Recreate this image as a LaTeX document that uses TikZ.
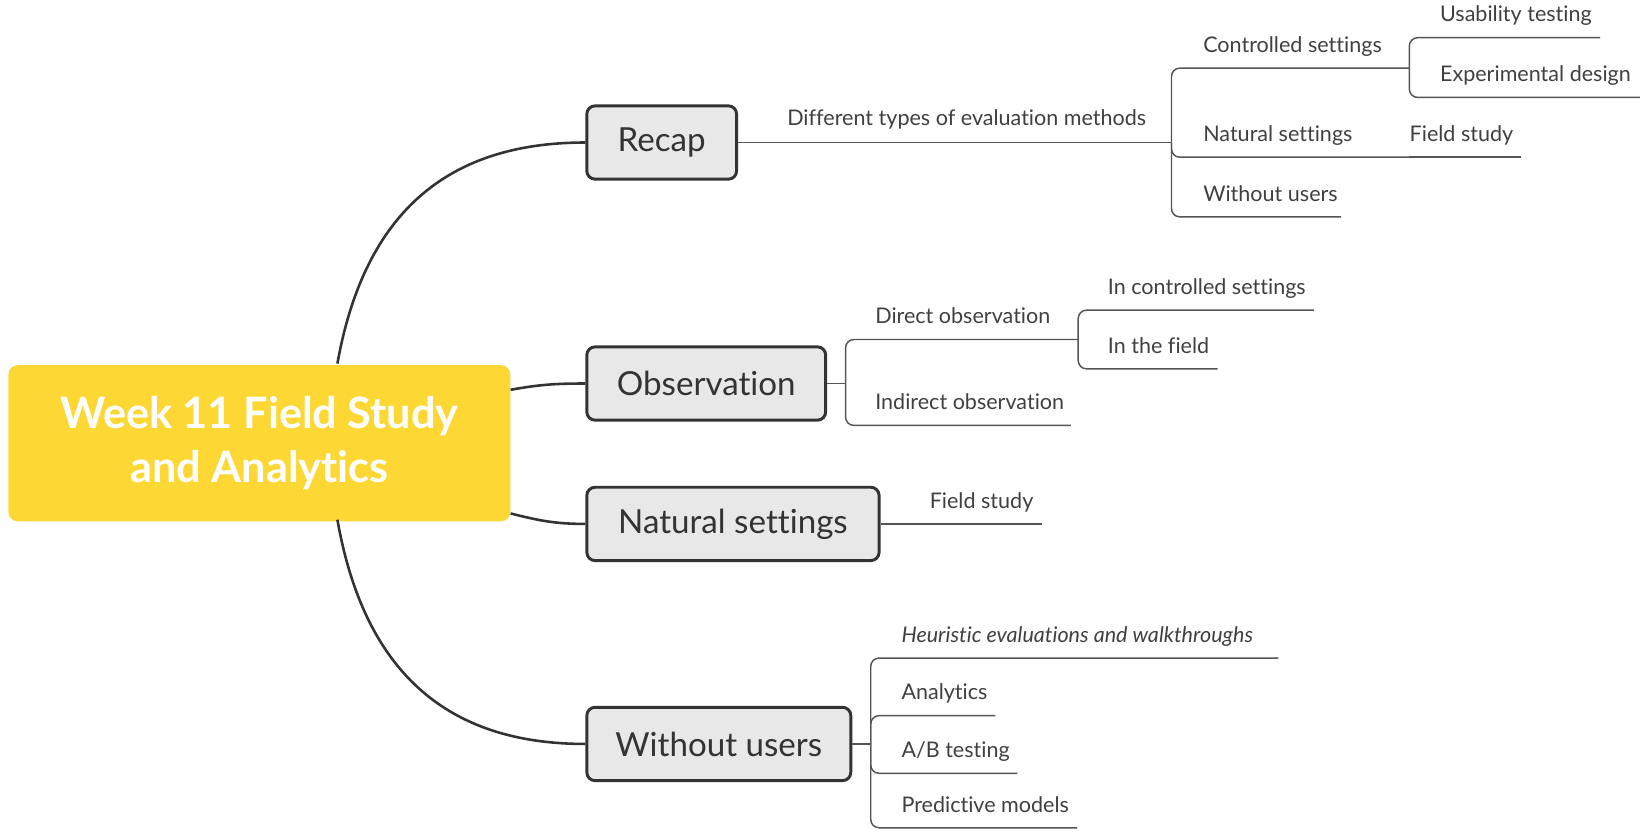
\documentclass[tikz,border=0pt]{standalone}
\usepackage{fontspec}
\setmainfont{Lato}[Ligatures=NoCommon]
\definecolor{yellowc}{HTML}{FDD835}
\definecolor{boxfill}{HTML}{E8E8E8}
\definecolor{boxborder}{HTML}{333333}
\definecolor{linedark}{HTML}{333333}
\definecolor{linegray}{HTML}{555555}
\definecolor{textdark}{HTML}{333333}
\definecolor{textgray}{HTML}{404040}
\tikzset{
  central/.style={fill=yellowc, rounded corners=5pt, minimum width=9.58cm, minimum height=2.98cm,
    text=white, font=\bfseries\fontsize{23.5}{29.5}\selectfont, align=center, inner sep=0pt},
  mainbox/.style={draw=boxborder, fill=boxfill, line width=1.6pt, rounded corners=4.5pt,
    minimum height=1.4cm, font=\fontsize{18}{22}\selectfont, text=textdark, inner sep=0pt},
  conn/.style={draw=linedark, line width=1.4pt},
  sub/.style={draw=linegray, line width=0.8pt, rounded corners=4.5pt},
  lbl/.style={anchor=base west, inner sep=0pt, font=\fontsize{11.7}{14}\selectfont, text=textgray},
}
\begin{document}
\begin{tikzpicture}[x=0.02cm,y=-0.02cm]
\useasboundingbox (0,0) rectangle (1568,800);

% central and main nodes
\node[central] (c) at (247.5,423) {Week 11 Field Study\\and Analytics};
\node[mainbox, minimum width=2.86cm] (recap) at (631.5,136) {Recap};
\node[mainbox, minimum width=4.56cm] (obs) at (674,366) {Observation};
\node[mainbox, minimum width=5.58cm] (nat) at (699.5,500) {Natural settings};
\node[mainbox, minimum width=5.04cm] (wo) at (686,710) {Without users};

% main connectors
\coordinate (ctop) at (322,347);
\coordinate (cbot) at (322,496);
\draw[conn] (ctop) .. controls (350,190) and (440,136) .. (recap.west);
\draw[conn] (cbot) .. controls (350,655) and (440,710) .. (wo.west);
\draw[conn] (c.east |- 0,372) .. controls (515,367) and (530,366) .. (obs.west);
\draw[conn] (c.east |- 0,490) .. controls (515,497) and (530,500) .. (nat.west);

% ---------- Recap branch ----------
\coordinate (rb) at (1118,136);
\draw[sub] (recap.east) -- (rb);
\node[lbl] (diff) at (751,120) {Different types of evaluation methods};
\coordinate (cb) at (1345,65);
\coordinate (natend) at (1345,150);
\coordinate (fsend) at (1452,150);
\coordinate (woend) at (1280,207);
\coordinate (usend) at (1527,36);
\coordinate (exend) at (1565,93);
\draw[sub] (rb) |- (cb);
\draw[sub] (rb) |- (natend);
\draw[sub] (natend) -- (fsend);
\draw[sub] (rb) |- (woend);
\draw[sub] (cb) |- (usend);
\draw[sub] (cb) |- (exend);
\node[lbl] (ctrl) at (1148,50) {Controlled settings};
\node[lbl] (natl) at (1148,135) {Natural settings};
\node[lbl] (fs1) at (1345,135) {Field study};
\node[lbl] (wol) at (1148,192) {Without users};
\node[lbl] (usab) at (1374,21) {Usability testing};
\node[lbl] (expd) at (1374,78) {Experimental design};

% ---------- Observation branch ----------
\coordinate (ob) at (807,366);
\coordinate (db) at (1029,324);
\coordinate (indend) at (1022,406);
\coordinate (icend) at (1254,296);
\coordinate (ifend) at (1162,352);
\draw[sub] (obs.east) -- (ob);
\draw[sub] (ob) |- (db);
\draw[sub] (ob) |- (indend);
\draw[sub] (db) |- (icend);
\draw[sub] (db) |- (ifend);
\node[lbl] (dir) at (835,309) {Direct observation};
\node[lbl] (ind) at (835,391) {Indirect observation};
\node[lbl] (inc) at (1057,281) {In controlled settings};
\node[lbl] (inf) at (1057,337) {In the field};

% ---------- Natural settings branch ----------
\coordinate (nsend) at (994,500);
\draw[sub] (nat.east) -- (nsend);
\node[lbl] (fs2) at (887,485) {Field study};

% ---------- Without users branch ----------
\coordinate (wb) at (831,710);
\coordinate (heend) at (1220,628);
\coordinate (anend) at (950,683);
\coordinate (abend) at (971,738);
\coordinate (prend) at (1028,790);
\draw[sub] (wo.east) -- (wb);
\draw[sub] (wb) |- (heend);
\draw[sub] (wb) |- (anend);
\draw[sub] (wb) |- (abend);
\draw[sub] (wb) |- (prend);
\node[lbl, font=\itshape\fontsize{11.7}{14}\selectfont] (heur) at (860,613) {Heuristic evaluations and walkthroughs};
\node[lbl] (anal) at (860,668) {Analytics};
\node[lbl] (abt) at (860,723) {A/B testing};
\node[lbl] (pred) at (860,775) {Predictive models};
\end{tikzpicture}
\end{document}
